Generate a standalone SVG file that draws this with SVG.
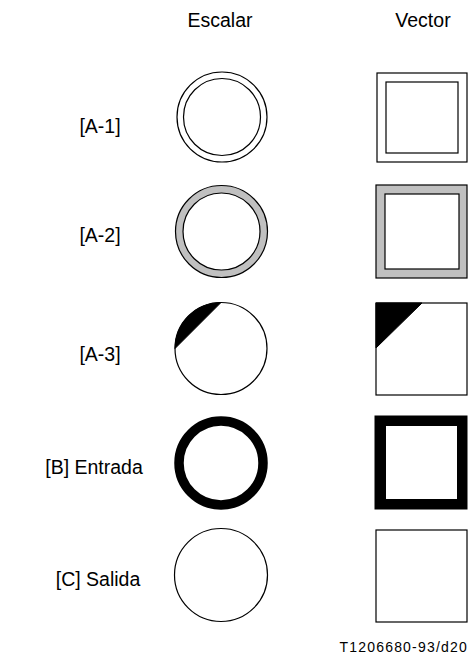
<svg xmlns="http://www.w3.org/2000/svg" width="470" height="660" viewBox="0 0 470 660">
<style>
text{font-family:"Liberation Sans",Arial,sans-serif;font-size:19.5px;fill:#000}
.o{fill:#fff;stroke:#000;stroke-width:1.2}
.n{fill:none;stroke:#000;stroke-width:1.2}
.g{fill:#c0c0c0;stroke:#000;stroke-width:1.2}
.k{fill:#000;stroke:#000;stroke-width:1}
</style>
<rect width="470" height="660" fill="#fff"/>
<g id="headers">
<text x="220" y="27" text-anchor="middle">Escalar</text>
<text x="423" y="27" text-anchor="middle">Vector</text>
</g>
<g id="labels">
<text x="100" y="133" text-anchor="middle">[A-1]</text>
<text x="100" y="242" text-anchor="middle">[A-2]</text>
<text x="100" y="361" text-anchor="middle">[A-3]</text>
<text x="94" y="474" text-anchor="middle">[B] Entrada</text>
<text x="98" y="586" text-anchor="middle">[C] Salida</text>
</g>
<g id="scalar-A1">
<circle class="o" cx="222" cy="117" r="45"/>
<circle class="n" cx="222" cy="117" r="38.5"/>
</g>
<g id="vector-A1">
<rect class="o" x="377" y="73" width="90" height="89"/>
<rect class="n" x="386" y="82" width="72" height="71"/>
</g>
<g id="scalar-A2">
<circle class="g" cx="221.5" cy="231.5" r="46"/>
<circle class="o" cx="221.5" cy="231.5" r="38.5"/>
</g>
<g id="vector-A2">
<rect class="g" x="376" y="185" width="91" height="93"/>
<rect class="o" x="385" y="194" width="74" height="75"/>
</g>
<g id="scalar-A3">
<circle class="o" cx="221" cy="348.5" r="46"/>
<path class="k" d="M221,302.5 A46,46 0 0 0 175,348.5 Z"/>
</g>
<g id="vector-A3">
<rect class="o" x="376" y="303" width="91" height="92"/>
<path class="k" d="M376,303 H422 L376,348 Z"/>
</g>
<g id="scalar-B">
<circle cx="221" cy="463" r="42" fill="#fff" stroke="#000" stroke-width="9.5"/>
</g>
<g id="vector-B">
<rect class="k" x="375" y="416" width="92" height="93"/>
<rect fill="#fff" x="386" y="426" width="71" height="73"/>
</g>
<g id="scalar-C">
<circle class="o" cx="221" cy="575" r="46.5"/>
</g>
<g id="vector-C">
<rect class="o" x="376" y="530" width="91" height="92"/>
</g>
<g id="connectors"/>
<text x="468" y="652" text-anchor="end" style="font-size:14px;letter-spacing:1.2px">T1206680-93/d20</text>
</svg>
